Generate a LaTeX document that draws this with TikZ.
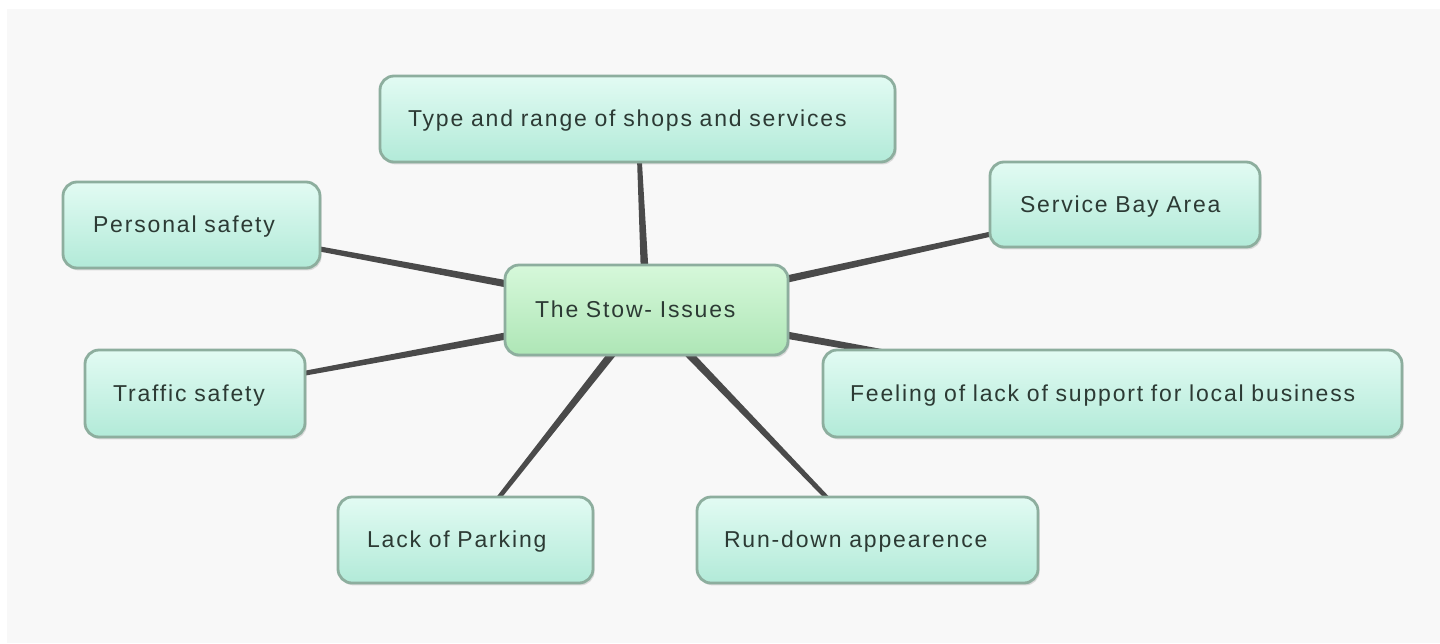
\documentclass[tikz,border=0pt]{standalone}
\usepackage{fontspec}
\setmainfont{Liberation Sans}[LetterSpace=8]
\usetikzlibrary{calc,shadows}
\pgfdeclarelayer{bgzero}
\pgfdeclarelayer{bgone}
\pgfsetlayers{bgzero,bgone,main}
\definecolor{bordc}{HTML}{8DAE9E}
\definecolor{topc}{HTML}{E2FBF3}
\definecolor{botc}{HTML}{B2EAD8}
\definecolor{mtopc}{HTML}{D6F8DA}
\definecolor{mbotc}{HTML}{AEE6B6}
\definecolor{txtc}{HTML}{2C3A34}
\definecolor{linec}{HTML}{4A4A4A}
\definecolor{paper}{HTML}{F8F8F8}
\tikzset{
  box/.style={draw=bordc, line width=1.4pt, rounded corners=7pt,
    top color=topc, bottom color=botc, text=txtc, align=left,
    font=\fontsize{11.5}{13}\selectfont, inner ysep=0pt, text depth=0.5pt,
    drop shadow={opacity=0.25, shadow xshift=0.8pt, shadow yshift=-1.2pt}},
  mainbox/.style={box, top color=mtopc, bottom color=mbotc},
  conn/.style={fill=linec}
}
\newcommand\myconn[2]{%
  \fill[conn] ($(#1)!2.2pt!90:(#2)$) -- ($(#1)!2.2pt!-90:(#2)$)
    -- ($(#2)!0.9pt!90:(#1)$) -- ($(#2)!0.9pt!-90:(#1)$) -- cycle;}
\begin{document}
\begin{tikzpicture}[x=0.5pt,y=-0.5pt]
\useasboundingbox (0,0) rectangle (1440,643);
\begin{pgfonlayer}{bgzero}
\fill[white] (0,0) rectangle (1440,643);
\fill[paper] (7,9) rectangle (1440,643);
\end{pgfonlayer}
\node[mainbox, minimum width=141.5pt, minimum height=45pt, text width=111.5pt, inner xsep=15pt] (m) at (646.5,310) {The Stow- Issues};
\node[box, minimum width=257.5pt, minimum height=43pt, text width=229.5pt, inner xsep=14pt] (top) at (637.5,119) {Type and range of shops and services};
\node[box, minimum width=128.5pt, minimum height=43pt, text width=98.5pt, inner xsep=15pt] (ps) at (191.5,225) {Personal safety};
\node[box, minimum width=135pt, minimum height=42.5pt, text width=105pt, inner xsep=15pt] (sb) at (1125,204.5) {Service Bay Area};
\node[box, minimum width=110pt, minimum height=43.5pt, text width=82pt, inner xsep=14pt] (ts) at (195,393.5) {Traffic safety};
\node[box, minimum width=289.5pt, minimum height=43.5pt, text width=262.5pt, inner xsep=13.5pt] (fl) at (1112.5,393.5) {Feeling of lack of support for local business};
\node[box, minimum width=127.5pt, minimum height=43pt, text width=98.5pt, inner xsep=14.5pt] (lp) at (465.5,540) {Lack of Parking};
\node[box, minimum width=170.5pt, minimum height=43pt, text width=143.5pt, inner xsep=13.5pt] (rd) at (867.5,540) {Run-down appearence};
\begin{pgfonlayer}{bgone}
\myconn{m}{top}
\myconn{m}{ps}
\myconn{m}{sb}
\myconn{m}{ts}
\myconn{m}{fl}
\myconn{m}{lp}
\myconn{m}{rd}
\end{pgfonlayer}
\end{tikzpicture}
\end{document}
